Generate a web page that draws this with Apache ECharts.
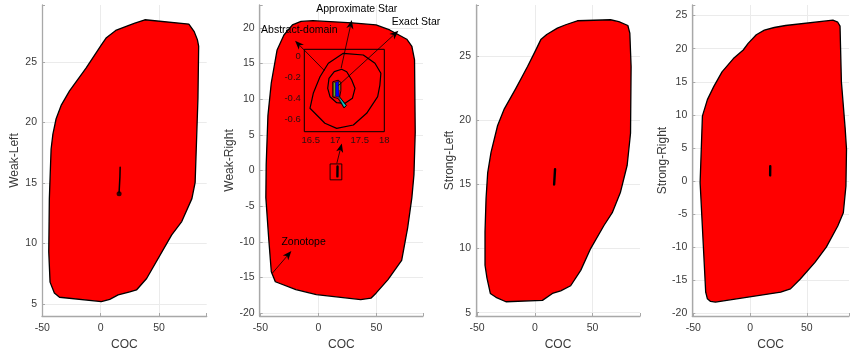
<!DOCTYPE html>
<html><head><meta charset="utf-8">
<script src="https://cdn.jsdelivr.net/npm/echarts@6/dist/echarts.min.js"></script>
<style>html,body{margin:0;padding:0;background:#fff}#c{width:852px;height:356px}</style>
</head><body><div id="c"></div>
<script>
// ---------- data ----------
const xName = 'COC';
const panelNames = ['Weak-Left', 'Weak-Right', 'Strong-Left', 'Strong-Right'];
const xTicks = [-50, 0, 50];
const yTicksWeakLeft = [5, 10, 15, 20, 25];
const yTicksWeakRight = [-20, -15, -10, -5, 0, 5, 10, 15, 20];
const yTicksStrongLeft = [5, 10, 15, 20, 25];
const yTicksStrongRight = [-20, -15, -10, -5, 0, 5, 10, 15, 20, 25];
const insetXTicks = [16.5, 17, 17.5, 18];
const insetYTicks = [0, -0.2, -0.4, -0.6];

const weakLeftZonotope = [[37.9,28.48],[75.6,28.12],[80.2,27.5],[83.0,26.8],[84.0,26.3],[83.4,22],[81.0,15.05],[78.2,13.7],[69.5,11.8],[60.9,10.7],[39.4,7.1],[30.7,6.15],[25,6.0],[15,5.74],[7.8,5.38],[0.6,5.19],[-35.3,5.55],[-39.7,5.9],[-43.4,6.8],[-44.5,9.3],[-44,13.7],[-42.5,17.8],[-41,19.0],[-38.2,20.3],[-33.9,21.4],[-26.7,22.6],[-12.4,24.5],[0.6,26.4],[4.9,27.0],[12.9,27.6],[23.6,28.0],[29.3,28.2]];
const weakRightZonotope = [[-4.7,21.0],[29.1,20.7],[49.7,20.4],[61.5,19.7],[76.2,18.4],[80.6,17.4],[82.9,15.5],[83.5,5.4],[82.4,-0.6],[80.6,-3.8],[77,-8.0],[71.8,-12.6],[60,-15.3],[49.7,-17.2],[45.3,-17.9],[36.5,-18.1],[-1.8,-17.4],[-19.4,-16.7],[-37.1,-15.6],[-40.6,-14.2],[-42.9,-9.4],[-45.3,-3.8],[-45,0.8],[-43.5,7.7],[-40.6,12.3],[-35.6,16.9],[-29.7,19.0],[-22.4,20.4],[-15,20.9]];
const strongLeftZonotope = [[36.8,27.77],[65.5,27.85],[72.7,27.7],[80.5,27.4],[82.2,26.8],[83.3,24.2],[82.8,19.0],[79.9,16.5],[74.1,14.4],[67,12.8],[59.8,11.8],[48.3,10.0],[39.7,8.3],[31,7.1],[22.4,6.7],[15.2,6.5],[6.6,5.96],[-25,5.85],[-33.6,6.2],[-38.5,6.5],[-41.4,7.7],[-43.1,8.7],[-43.1,11.3],[-42.2,13.9],[-40.8,15.9],[-37.9,17.5],[-32.2,19.6],[-26.4,20.9],[-16.4,22.5],[-6.3,24.2],[0.9,25.5],[5.2,26.3],[10.3,26.7],[19.5,27.2],[26.7,27.46]];
const strongRightZonotope = [[5.5,22.1],[12.6,22.8],[21.3,23.2],[31.3,23.5],[73,24.3],[77.3,24.0],[79.3,23.4],[80.5,15],[83.8,8],[85,4.8],[84.5,-0.75],[82.2,-4.8],[77.3,-6.8],[67.2,-10.0],[57.2,-12.3],[44.3,-14.8],[35.6,-16.3],[27,-16.8],[-30.5,-18.3],[-34.8,-18.2],[-37.6,-17.8],[-39.1,-16.8],[-44,-0.25],[-42,9.8],[-37.6,12.3],[-31.9,14.3],[-24.7,16.5],[-14.7,18.5],[-6,19.8],[-1.7,20.8]];

const weakLeftStar = [[16.7,16.3],[16.5,15.5],[15.8,14.2]];
const weakLeftPoint = [[15.8,14.1]];
const weakRightStar = [[16.5,0.55],[16.4,-0.83]];
const strongLeftStar = [[17.5,16.2],[16.7,15.0]];
const strongRightStar = [[17.8,2.25],[17.7,0.85]];
const zoomBox = [[10.1,0.92],[20.2,0.92],[20.2,-1.31],[10.1,-1.31]];

const insetAbstractDomain = [[17.165,0.026],[17.572,0.010],[17.81,-0.069],[17.93,-0.164],[17.91,-0.276],[17.865,-0.387],[17.64,-0.545],[17.37,-0.656],[17.03,-0.688],[16.79,-0.640],[16.486,-0.497],[16.553,-0.355],[16.69,-0.197],[16.86,-0.069]];
const insetApproxStar = [[17.132,-0.126],[17.234,-0.149],[17.336,-0.228],[17.403,-0.307],[17.35,-0.402],[17.20,-0.45],[17.03,-0.444],[16.894,-0.387],[16.847,-0.307],[16.873,-0.212],[16.981,-0.149]];
const exactStarGreen = [[16.96,-0.255],[17.01,-0.25],[17.01,-0.38],[16.96,-0.385]];
const exactStarBlue = [[17.01,-0.25],[17.07,-0.24],[17.08,-0.39],[17.01,-0.385]];
const exactStarYellow = [[17.08,-0.245],[17.11,-0.255],[17.11,-0.32],[17.08,-0.33]];
const exactStarCyan = [[17.06,-0.385],[17.09,-0.39],[17.22,-0.47],[17.18,-0.49]];
const exactStarOutline = [[16.95,-0.245],[17.06,-0.23],[17.115,-0.25],[17.115,-0.33],[17.09,-0.39],[17.23,-0.47],[17.18,-0.495],[17.06,-0.405],[16.95,-0.39]];

// annotations (Weak-Right panel data coordinates)
const annotationTexts = ['Abstract-domain', 'Approximate Star', 'Exact Star', 'Zonotope'];
const annotationAnchors = [[-49.4,19.72],[33.1,22.6],[63.3,20.75],[-31.9,-10.1]];
const annotationAlign = ['left', 'center', 'left', 'left'];
const arrowTails = [[5.2,14.0],[19.6,14.35],[17.2,11.9],[-39.7,-14.4],[15.9,1.0]];
const arrowHeads = [[-20.1,18.19],[28.8,21.1],[69.0,19.6],[-23.3,-11.3],[20.2,3.8]];

// ---------- layout ----------
const FONT = 'Liberation Sans, Arial, Helvetica, sans-serif';
const grids = [
  {left:42, top:5, width:164.7, height:312.7},
  {left:259.7, top:5, width:163.3, height:312.7},
  {left:476, top:5, width:164, height:312.7},
  {left:692.3, top:5, width:159.7, height:312.7},
  {left:304.3, top:49.3, width:80, height:82.4, show:true, borderColor:'#000', borderWidth:1, backgroundColor:'transparent', z:5}
];
const xRanges = [[-50.3,90.9],[-50.6,90.2],[-50.9,91.0],[-50.9,87.2]];
const yRanges = [[4.0,29.7],[-20.4,23.2],[4.74,29.0],[-20.4,26.6]];
const ySplit = [5,9,5,9];
const yTickSets = [yTicksWeakLeft, yTicksWeakRight, yTicksStrongLeft, yTicksStrongRight];
const yNameGaps = [21, 24, 20.7, 24];

const AX = '#a8a8a8', LBL = '#3a3a3a';
const inList = (list) => (v) => list.some(t => Math.abs(t - v) < 1e-9) ? String(+v.toFixed(4)) : '';

const xAxes = [], yAxes = [];
for (let i = 0; i < 4; i++) {
  xAxes.push({type:'value', gridIndex:i, min:xRanges[i][0], max:xRanges[i][1], splitNumber:3,
    name:xName, nameLocation:'middle', nameGap:23, nameTextStyle:{fontFamily:FONT, fontSize:12, color:LBL},
    axisLine:{show:true, onZero:false, lineStyle:{color:AX, width:1.3}},
    axisTick:{show:true, inside:true, length:3, lineStyle:{color:AX}},
    axisLabel:{margin:7, color:LBL, fontFamily:FONT, fontSize:10.5, formatter:inList(xTicks)},
    splitLine:{show:true, showMinLine:false, showMaxLine:false, lineStyle:{color:'#ebebeb', width:1}}});
  yAxes.push({type:'value', gridIndex:i, min:yRanges[i][0], max:yRanges[i][1], splitNumber:ySplit[i],
    name:panelNames[i], nameLocation:'middle', nameGap:yNameGaps[i], nameTextStyle:{fontFamily:FONT, fontSize:12, color:LBL},
    axisLine:{show:true, onZero:false, lineStyle:{color:AX, width:1.3}},
    axisTick:{show:true, inside:true, length:3, lineStyle:{color:AX}},
    axisLabel:{margin:5, color:LBL, fontFamily:FONT, fontSize:10.5, formatter:inList(yTickSets[i])},
    splitLine:{show:true, showMinLine:false, showMaxLine:false, lineStyle:{color:'#ebebeb', width:1}}});
}
// inset axes
xAxes.push({type:'value', gridIndex:4, min:16.37, max:18.0, splitNumber:3, z:6,
  axisLine:{show:false}, axisTick:{show:false}, splitLine:{show:false},
  axisLabel:{margin:4, color:'#2a1010', fontFamily:FONT, fontSize:9.5, formatter:inList(insetXTicks), showMinLabel:false}});
yAxes.push({type:'value', gridIndex:4, min:-0.72, max:0.064, splitNumber:4, z:6,
  axisLine:{show:false}, axisTick:{show:false}, splitLine:{show:false},
  axisLabel:{margin:3.5, color:'#2a1010', fontFamily:FONT, fontSize:9.5, formatter:inList(insetYTicks)}});

// ---------- series builders ----------
function shapeSeries(gi, pts, style, z, closed, clip) {
  return {type:'custom', coordinateSystem:'cartesian2d', xAxisIndex:gi, yAxisIndex:gi,
    data:pts, encode:{x:0, y:1}, z:z, silent:true, animation:false, clip:clip !== false,
    renderItem: function (params, api) {
      if (params.dataIndex !== 0) return null;
      const points = pts.map(p => api.coord(p));
      return {type: closed ? 'polygon' : 'polyline', shape:{points:points}, style:style};
    }};
}
function dotSeries(gi, pts, r, z) {
  return {type:'scatter', xAxisIndex:gi, yAxisIndex:gi, data:pts, symbol:'circle', symbolSize:r,
    itemStyle:{color:'#000'}, z:z, silent:true, animation:false};
}

const zonoStyle = {fill:'#ff0000', stroke:'#000', lineWidth:1.3, lineJoin:'round'};
const markStyle = (w) => ({fill:null, stroke:'#000', lineWidth:w, lineCap:'round', lineJoin:'round'});

const series = [
  shapeSeries(0, weakLeftZonotope, zonoStyle, 2, true),
  shapeSeries(1, weakRightZonotope, zonoStyle, 2, true),
  shapeSeries(2, strongLeftZonotope, zonoStyle, 2, true),
  shapeSeries(3, strongRightZonotope, zonoStyle, 2, true),
  shapeSeries(0, weakLeftStar, markStyle(1.5), 3, false),
  dotSeries(0, weakLeftPoint, 5, 3),
  shapeSeries(1, weakRightStar, markStyle(2.4), 3, false),
  shapeSeries(2, strongLeftStar, markStyle(2.4), 3, false),
  shapeSeries(3, strongRightStar, markStyle(2.4), 3, false),
  shapeSeries(1, zoomBox, {fill:null, stroke:'#000', lineWidth:0.9}, 3, true),
  // inset
  shapeSeries(4, insetAbstractDomain, {fill:null, stroke:'#000', lineWidth:1.2, lineJoin:'round'}, 6, true),
  shapeSeries(4, insetApproxStar, {fill:null, stroke:'#000', lineWidth:1.2, lineJoin:'round'}, 6, true),
  shapeSeries(4, exactStarGreen, {fill:'#5fb21c', stroke:'#3a2a00', lineWidth:0.6}, 7, true),
  shapeSeries(4, exactStarBlue, {fill:'#0000ff', stroke:'#000060', lineWidth:0.6}, 7, true),
  shapeSeries(4, exactStarYellow, {fill:'#b8d400', stroke:'#403000', lineWidth:0.6}, 7, true),
  shapeSeries(4, exactStarCyan, {fill:'#00c8c8', stroke:'#003030', lineWidth:0.6}, 7, true),
  shapeSeries(4, exactStarOutline, {fill:null, stroke:'#000', lineWidth:0.9, lineJoin:'round'}, 8, true),
  // arrows
  {type:'custom', coordinateSystem:'cartesian2d', xAxisIndex:1, yAxisIndex:1, clip:false, z:10, silent:true, animation:false,
    data: arrowTails.map((t, i) => [t[0], t[1], arrowHeads[i][0], arrowHeads[i][1]]),
    encode:{x:[0,2], y:[1,3]},
    renderItem: function (params, api) {
      const p1 = api.coord([api.value(0), api.value(1)]);
      const p2 = api.coord([api.value(2), api.value(3)]);
      const dx = p2[0]-p1[0], dy = p2[1]-p1[1], L = Math.hypot(dx, dy);
      const ux = dx/L, uy = dy/L, nx = -uy, ny = ux;
      const hl = 9, hw = 3.6, back = 6.5;
      const b1 = [p2[0]-ux*hl+nx*hw, p2[1]-uy*hl+ny*hw];
      const b2 = [p2[0]-ux*hl-nx*hw, p2[1]-uy*hl-ny*hw];
      const nt = [p2[0]-ux*back, p2[1]-uy*back];
      return {type:'group', children:[
        {type:'line', shape:{x1:p1[0], y1:p1[1], x2:nt[0], y2:nt[1]}, style:{stroke:'#000', lineWidth:0.8}},
        {type:'polygon', shape:{points:[p2, b1, nt, b2]}, style:{fill:'#000'}}]};
    }},
  // annotation texts
  {type:'custom', coordinateSystem:'cartesian2d', xAxisIndex:1, yAxisIndex:1, clip:false, z:11, silent:true, animation:false,
    data: annotationAnchors, encode:{x:0, y:1},
    renderItem: function (params, api) {
      const p = api.coord([api.value(0), api.value(1)]);
      return {type:'text', x:p[0], y:p[1], style:{text:annotationTexts[params.dataIndex], fill:'#000',
        font:'10.5px ' + FONT, align:annotationAlign[params.dataIndex], verticalAlign:'middle'}};
    }}
];

const chart = echarts.init(document.getElementById('c'), null, {renderer:'canvas'});
chart.setOption({
  animation:false,
  backgroundColor:'#ffffff',
  textStyle:{fontFamily:FONT},
  grid:grids, xAxis:xAxes, yAxis:yAxes, series:series
});
</script></body></html>
